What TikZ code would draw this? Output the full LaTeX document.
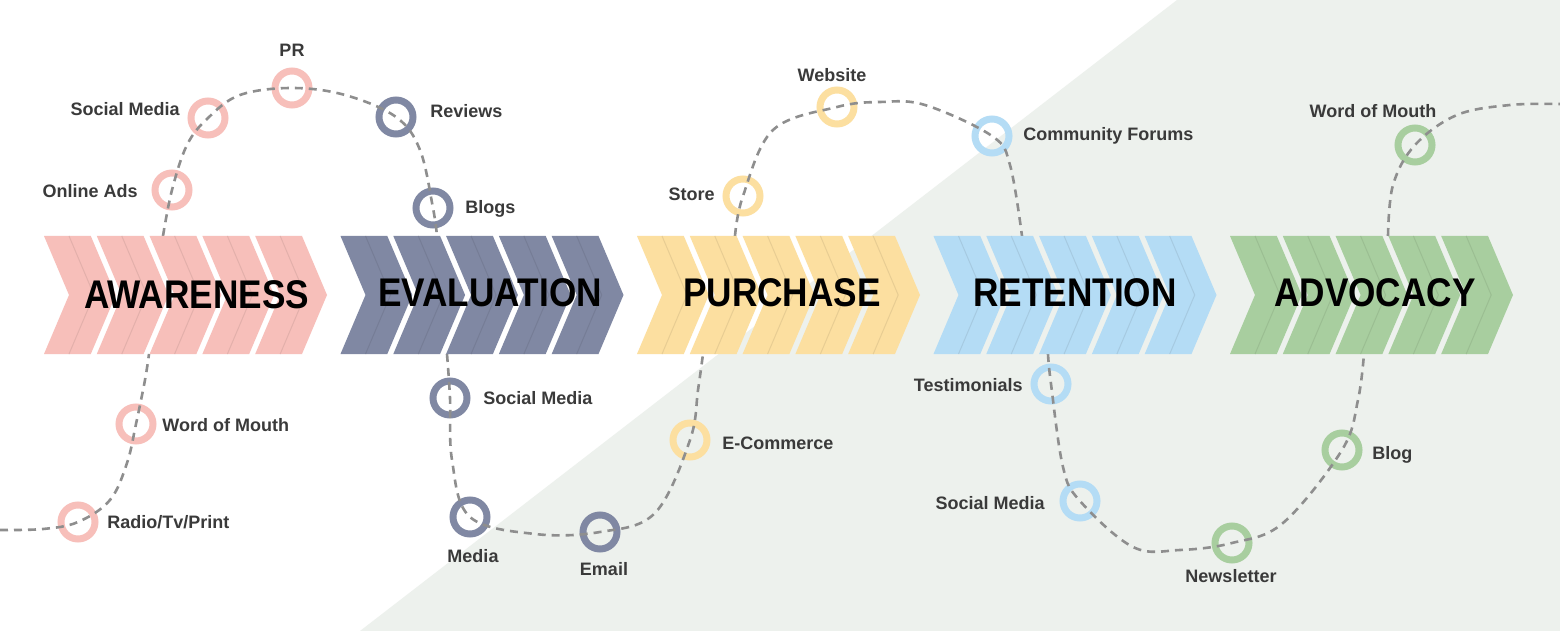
\documentclass[tikz,border=0pt]{standalone}
\usepackage{fontspec}
\setmainfont{Liberation Sans}
\newfontfamily\titlefont[FakeStretch=0.88]{Liberation Sans}
\definecolor{cpink}{HTML}{F7BFBA}
\definecolor{cslate}{HTML}{8088A3}
\definecolor{cyellow}{HTML}{FCDFA0}
\definecolor{cblue}{HTML}{B4DCF5}
\definecolor{cgreen}{HTML}{A8CE9F}
\definecolor{bgtint}{HTML}{EDF1ED}
\definecolor{labelgray}{HTML}{3A3A3A}
\definecolor{dashgray}{HTML}{8E8E8E}
\begin{document}
\begin{tikzpicture}[x=0.5pt,y=-0.5pt,
  ring/.style={circle, draw=#1, line width=3.5pt, minimum size=17pt, inner sep=0pt},
  lbl/.style={font=\fontsize{9}{10}\selectfont\bfseries, text=labelgray, inner sep=0pt},
  ttl/.style={font=\titlefont\fontsize{20}{21}\selectfont\bfseries, text=black, inner sep=0pt},
  trail/.style={draw=dashgray, line width=1.3pt, dash pattern=on 4pt off 3pt},
  chev/.style={fill=#1},
  stripe/.style={draw=#1!92!black, line width=0.5pt}
]
\useasboundingbox (0,0) rectangle (1560,631);
\fill[white] (0,0) rectangle (1560,631);
\fill[bgtint] (360,631) -- (1177,0) -- (1560,0) -- (1560,631) -- cycle;

% rings
\node[ring=cpink] (aPR) at (292,88) {};
\node[ring=cpink] (aSM) at (208,118) {};
\node[ring=cpink] (aOA) at (172,190) {};
\node[ring=cpink] (aWOM) at (136,424) {};
\node[ring=cpink] (aRTP) at (78,522) {};
\node[ring=cslate] (eRev) at (396,117) {};
\node[ring=cslate] (eBlog) at (433,208) {};
\node[ring=cslate] (eSM) at (450,398) {};
\node[ring=cslate] (eMed) at (470,517) {};
\node[ring=cslate] (eMail) at (600,532) {};
\node[ring=cyellow] (pStore) at (743,196) {};
\node[ring=cyellow] (pWeb) at (837,107) {};
\node[ring=cyellow] (pEC) at (690,440) {};
\node[ring=cblue] (rCF) at (992,136) {};
\node[ring=cblue] (rTest) at (1051,384) {};
\node[ring=cblue] (rSM) at (1080,501) {};
\node[ring=cgreen] (vNews) at (1232,543) {};
\node[ring=cgreen] (vBlog) at (1342,450) {};
\node[ring=cgreen] (vWOM) at (1415,145) {};

% dashed trail
\coordinate (t0) at (0,530);
\coordinate (t9) at (1560,104);
\draw[trail] plot[smooth, tension=0.6] coordinates {(t0) (43,529) (aRTP.center) (110,500) (127,463) (aWOM.center) (145,380) (149,354)};
\draw[trail] plot[smooth, tension=0.6] coordinates {(163,236) (aOA.center) (187,145) (aSM.center) (240,95) (aPR.center) (345,95) (eRev.center) (420,150) (eBlog.center) (437,236)};
\draw[trail] plot[smooth, tension=0.6] coordinates {(447,354) (eSM.center) (452,460) (eMed.center) (535,534) (eMail.center) (655,513) (pEC.center) (698,390) (703,354)};
\draw[trail] plot[smooth, tension=0.6] coordinates {(735,236) (pStore.center) (773,130) (pWeb.center) (880,102) (925,105) (rCF.center) (1010,165) (1022,236)};
\draw[trail] plot[smooth, tension=0.6] coordinates {(1048,354) (rTest.center) (1063,467) (rSM.center) (1133,547) (1180,550) (vNews.center) (1283,523) (vBlog.center) (1358,400) (1364,354)};
\draw[trail] plot[smooth, tension=0.6] coordinates {(1388,236) (1393,185) (vWOM.center) (1457,115) (1510,105) (t9)};

% chevrons
\foreach \gx/\col in {44/cpink, 340.5/cslate, 637/cyellow, 933.5/cblue, 1230/cgreen} {
  \foreach \i in {0,...,4} {
    \pgfmathsetmacro\xa{\gx+\i*52.8}
    \fill[chev=\col] (\xa,236) -- ++(46.8,0) -- ++(25,59) -- ++(-25,59) -- ++(-46.8,0) -- ++(25,-59) -- cycle;
    \draw[stripe=\col] (\xa+25,236) -- ++(25,59) -- ++(-25,59);
  }
}

% titles
\node[ttl] (tAw) at (196.5,295) {AWARENESS};
\node[ttl] (tEv) at (490,293) {EVALUATION};
\node[ttl] (tPu) at (782,293) {PURCHASE};
\node[ttl] (tRe) at (1075,293) {RETENTION};
\node[ttl] (tAd) at (1375,293) {ADVOCACY};

% labels
\node[lbl, anchor=base] (lPR) at (292,56.5) {PR};
\node[lbl, anchor=base east] (lASM) at (180,115.5) {Social Media};
\node[lbl, anchor=base east] (lOA) at (138,197.5) {Online Ads};
\node[lbl, anchor=base west] (lAWOM) at (162,431.5) {Word of Mouth};
\node[lbl, anchor=base west] (lRTP) at (107,528.5) {Radio/Tv/Print};
\node[lbl, anchor=base west] (lRev) at (430,117.5) {Reviews};
\node[lbl, anchor=base west] (lBlogs) at (465,213.5) {Blogs};
\node[lbl, anchor=base west] (lESM) at (483,404.5) {Social Media};
\node[lbl, anchor=base] (lMed) at (473,562.5) {Media};
\node[lbl, anchor=base] (lMail) at (604,575.5) {Email};
\node[lbl, anchor=base east] (lStore) at (715,200.5) {Store};
\node[lbl, anchor=base] (lWeb) at (832,81.5) {Website};
\node[lbl, anchor=base west] (lEC) at (722,449.5) {E-Commerce};
\node[lbl, anchor=base west] (lCF) at (1023,140.5) {Community Forums};
\node[lbl, anchor=base east] (lTest) at (1023,391.5) {Testimonials};
\node[lbl, anchor=base east] (lRSM) at (1045,509.5) {Social Media};
\node[lbl, anchor=base] (lNews) at (1231,582.5) {Newsletter};
\node[lbl, anchor=base west] (lBlog) at (1372,459.5) {Blog};
\node[lbl, anchor=base] (lVWOM) at (1373,117.5) {Word of Mouth};
\end{tikzpicture}
\end{document}
